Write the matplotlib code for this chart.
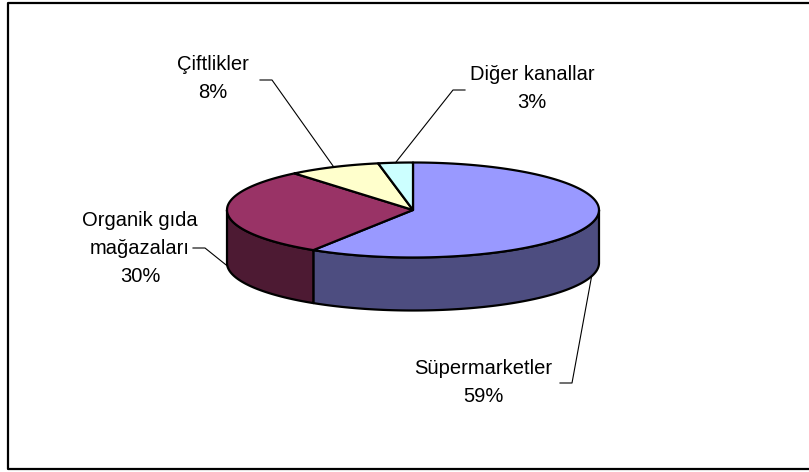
import numpy as np
import matplotlib
matplotlib.use('Agg')
import matplotlib.pyplot as plt
from matplotlib.patches import Polygon

# data
labels = ['Süpermarketler', 'Organik gıda\nmağazaları', 'Çiftlikler', 'Diğer kanallar']
values = [59, 30, 8, 3]

# style
TOP_COLORS = ['#9999FF', '#993366', '#FFFFCC', '#CCFFFF']
SIDE_COLORS = ['#4D4D80', '#4D1A33', '#80805F', '#668080']
FONT = 'Liberation Sans'
FONT_SIZE = 14.5

# geometry of the pie (pixels)
CX, CY = 413, 210
RX, RY = 186, 47.5
DEPTH = 53

# text position, elbow of leader line
label_pos = [(483, 382), (140, 248), (213, 79), (532, 88)]
elbow = [[(560, 383), (572, 383)], [(193, 248), (205, 248)],
         [(260, 80), (272, 80)], [(465, 90), (453, 90)]]


def rim(t, dz=0):
    t = np.radians(t)
    return CX + RX * np.cos(t), CY - RY * np.sin(t) + dz


def arc(a1, a2, dz=0, n=120):
    ts = np.linspace(a1, a2, n)
    x, y = rim(ts, dz)
    return np.column_stack([x, y])


fig = plt.figure(figsize=(8.09, 4.72), dpi=100)
ax = fig.add_axes([0, 0, 1, 1])
ax.set_xlim(0, 809)
ax.set_ylim(472, 0)
ax.axis('off')

# outer frame
ax.plot([820, 8, 8, 820], [3, 3, 469, 469], color='black', lw=1.6, solid_capstyle='butt')

total = float(sum(values))
bounds = []
start = 90.0
for v in values:
    end = start - 360.0 * v / total
    bounds.append((end, start))
    start = end

# sides (front half only)
for i, (a, b) in enumerate(bounds):
    for lo, hi in [(-540, -360), (-180, 0), (180, 360)]:
        s, e = max(a, lo), min(b, hi)
        if e <= s:
            continue
        top = arc(s, e)
        bot = arc(e, s, DEPTH)
        poly = Polygon(np.vstack([top, bot]), closed=True, facecolor=SIDE_COLORS[i],
                       edgecolor='black', lw=1.6, joinstyle='round')
        ax.add_patch(poly)

# top wedges
for i, (a, b) in enumerate(bounds):
    pts = np.vstack([[CX, CY], arc(a, b)])
    ax.add_patch(Polygon(pts, closed=True, facecolor=TOP_COLORS[i],
                         edgecolor='black', lw=1.6, joinstyle='round'))

# labels and leader lines
for i, (a, b) in enumerate(bounds):
    mid = (a + b) / 2
    front = np.sin(np.radians(mid)) < 0
    px, py = rim(mid, DEPTH if front else 0)
    (ex0, ey0), (ex1, ey1) = elbow[i]
    ax.plot([ex0, ex1, px], [ey0, ey1, py], color='black', lw=0.8)
    pct = '{:.0f}%'.format(100 * values[i] / total)
    ax.text(label_pos[i][0], label_pos[i][1], labels[i] + '\n' + pct,
            ha='center', va='center', fontsize=FONT_SIZE, family=FONT,
            linespacing=1.6)

fig.savefig('out.png', dpi=100)
